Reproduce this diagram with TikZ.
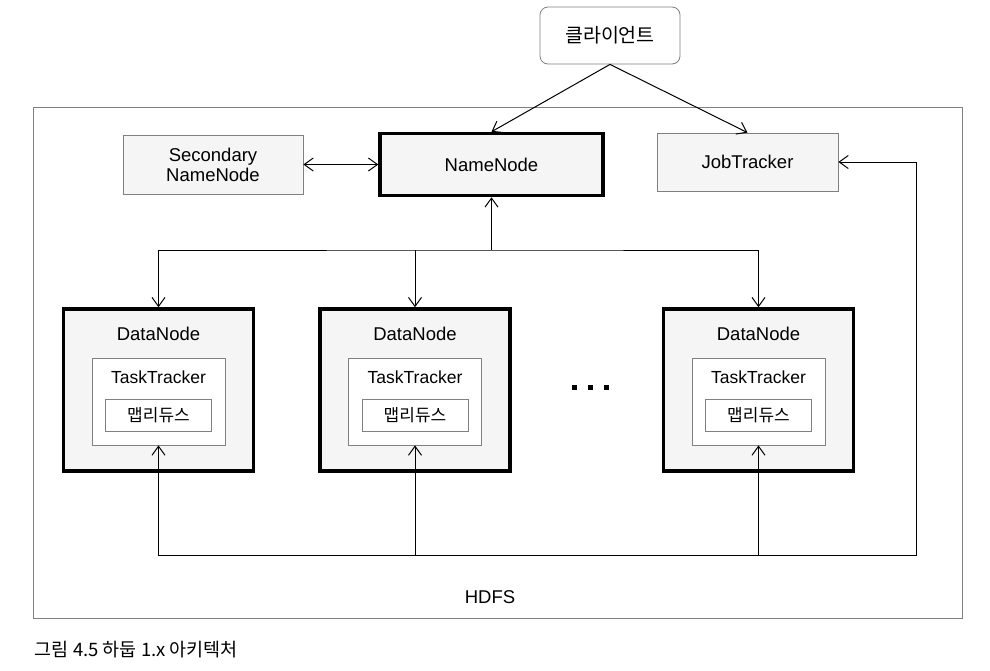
\documentclass[tikz,border=0pt]{standalone}
\usepackage{fontspec}
\setmainfont{Liberation Sans}
\newfontfamily\kr{Noto Sans CJK KR}
\usetikzlibrary{arrows.meta}

\tikzset{
	thin box/.style={draw=black!50, line width=0.8pt, fill=black!4, inner sep=0pt},
	thick box/.style={draw=black, line width=3.5pt, fill=black!4, inner sep=0pt},
	white box/.style={draw=black!50, line width=0.8pt, fill=white, inner sep=0pt},
	lbl/.style={font=\fontsize{18.5}{20}\selectfont},
	krlbl/.style={font=\kr\fontsize{17}{19}\selectfont},
}

\begin{document}
\begin{tikzpicture}[x=1pt,y=-1pt,line width=1pt,>={Straight Barb[length=9pt,width=13pt]}]
	\useasboundingbox (0,0) rectangle (990,670);

	\node[draw=black!50,line width=0.8pt,minimum width=929pt,minimum height=511pt] (hdfs) at (497.5,362.5) {};
	\node[lbl] (hdfs label) at (490,597) {HDFS};

	\node[white box,rounded corners=8pt,minimum width=140pt,minimum height=57pt,font=\kr\fontsize{19.5}{21}\selectfont] (client) at (610,35.5) {클라이언트};

	\node[thin box,lbl,align=center,minimum width=180pt,minimum height=59pt] (snn) at (213,164.5) {Secondary\\NameNode};
	\node[thick box,lbl,minimum width=223pt,minimum height=62pt] (nn) at (491.5,164.5) {NameNode};
	\node[thin box,lbl,minimum width=181pt,minimum height=58pt] (jt) at (747.5,162) {JobTracker};

	\draw[->] (client.south) -- (nn.north);
	\draw[->] (client.south) -- (jt.north);
	\draw[<->] (snn.east) -- (nn.west);

	% data nodes
	\node[thick box,minimum width=190pt,minimum height=162pt] (dn1) at (158.5,390) {};
	\node[lbl] (dn1 label) at ([yshift=56pt]dn1.center) {DataNode};
	\node[white box,minimum width=133pt,minimum height=87pt] (tt1) at ([yshift=-11.5pt]dn1.center) {};
	\node[lbl,font=\fontsize{17.5}{19}\selectfont] (tt1 label) at ([yshift=13pt]dn1.center) {TaskTracker};
	\node[white box,krlbl,minimum width=106pt,minimum height=32pt] (mr1) at ([yshift=-25.5pt]dn1.center) {맵리듀스};

	\node[thick box,minimum width=190pt,minimum height=162pt] (dn2) at (415,390) {};
	\node[lbl] (dn2 label) at ([yshift=56pt]dn2.center) {DataNode};
	\node[white box,minimum width=133pt,minimum height=87pt] (tt2) at ([yshift=-11.5pt]dn2.center) {};
	\node[lbl,font=\fontsize{17.5}{19}\selectfont] (tt2 label) at ([yshift=13pt]dn2.center) {TaskTracker};
	\node[white box,krlbl,minimum width=106pt,minimum height=32pt] (mr2) at ([yshift=-25.5pt]dn2.center) {맵리듀스};

	\node[thick box,minimum width=190pt,minimum height=162pt] (dn3) at (758.5,390) {};
	\node[lbl] (dn3 label) at ([yshift=56pt]dn3.center) {DataNode};
	\node[white box,minimum width=133pt,minimum height=87pt] (tt3) at ([yshift=-11.5pt]dn3.center) {};
	\node[lbl,font=\fontsize{17.5}{19}\selectfont] (tt3 label) at ([yshift=13pt]dn3.center) {TaskTracker};
	\node[white box,krlbl,minimum width=106pt,minimum height=32pt] (mr3) at ([yshift=-25.5pt]dn3.center) {맵리듀스};

	\foreach \x in {574,590,606} \fill (\x-2.5,384.5) rectangle ++(5,5);

	% bus to the namenode
	\coordinate (top bus) at (491.5,250);
	\draw[->] (top bus) -- (nn.south);
	\draw[<->] (dn1.north) |- (top bus) -| (dn3.north);
	\draw[->] (top bus -| dn2.north) -- (dn2.north);

	% bus to the jobtracker
	\coordinate (bottom bus) at (916,555);
	\draw[<->] (tt1.south) |- (bottom bus) |- (jt.east);
	\draw[->] (bottom bus -| tt2.south) -- (tt2.south);
	\draw[->] (bottom bus -| tt3.south) -- (tt3.south);

	\node[anchor=west,font=\kr\fontsize{18.5}{20}\selectfont] (caption) at (31,650) {그림 4.5 하둡 1.x 아키텍처};
\end{tikzpicture}
\end{document}
